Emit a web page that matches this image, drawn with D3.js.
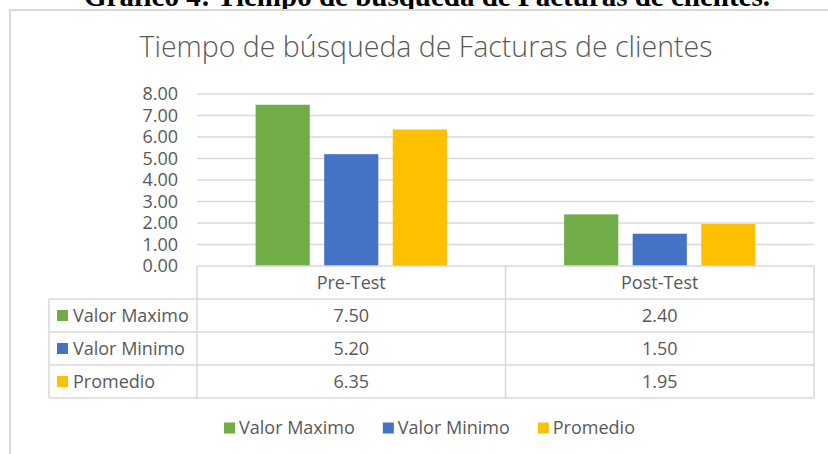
<!DOCTYPE html>
<html>
<head>
<meta charset="utf-8">
<script src="https://cdn.jsdelivr.net/npm/d3@7"></script>
<style>
  html, body { margin: 0; padding: 0; background: #fff; }
  svg { display: block; }
  text { font-family: "Open Sans", "Noto Sans", sans-serif; fill: #595959; }
</style>
</head>
<body>
<svg id="chart" width="828" height="454"></svg>
<script>
// datos
const categories = ["Pre-Test", "Post-Test"];
const seriesNames = ["Valor Maximo", "Valor Minimo", "Promedio"];
const valorMaximo = [7.50, 2.40];
const valorMinimo = [5.20, 1.50];
const promedio = [6.35, 1.95];
const yTicks = [0, 1, 2, 3, 4, 5, 6, 7, 8];
const seriesColors = ["#70ad47", "#4472c4", "#ffc000"];

const series = [valorMaximo, valorMinimo, promedio];
const plot = { left: 197, right: 814, top: 94, bottom: 266 };
const rowH = 33, tableLeft = 49;
const grid = "#d9d9d9";
const fs = 18;

const svg = d3.select("#chart");

// titulo del documento (cortado arriba, como en la captura)
svg.append("text")
  .attr("x", 427).attr("y", 6)
  .attr("text-anchor", "middle")
  .style("font-family", "'Liberation Serif', 'DejaVu Serif', serif")
  .style("font-weight", "bold").style("font-size", "29px").style("fill", "#000")
  .text("Gráfico 4: Tiempo de búsqueda de Facturas de clientes.");

// marco del grafico
svg.append("rect")
  .attr("x", 10).attr("y", 10).attr("width", 840).attr("height", 470)
  .attr("fill", "#fff").attr("stroke", grid).attr("stroke-width", 2);

svg.append("text")
  .attr("x", 426).attr("y", 57)
  .attr("text-anchor", "middle")
  .style("font-size", "28.5px").style("font-weight", 300)
  .text("Tiempo de búsqueda de Facturas de clientes");

const y = d3.scaleLinear().domain([0, 8]).range([plot.bottom, plot.top]);
const x0 = d3.scaleBand().domain(categories).range([plot.left, plot.right]);
const x1 = d3.scaleBand().domain(seriesNames).range([0, x0.bandwidth()])
  .paddingInner(0.21).paddingOuter(0.855);

// lineas de cuadricula
svg.append("g").selectAll("line").data(yTicks.slice(1)).join("line")
  .attr("x1", plot.left).attr("x2", plot.right)
  .attr("y1", d => y(d)).attr("y2", d => y(d))
  .attr("stroke", grid).attr("stroke-width", 1.5);

// eje y
const gy = svg.append("g").attr("transform", `translate(${plot.left - 19},0)`)
  .call(d3.axisLeft(y).tickValues(yTicks).tickFormat(d3.format(".2f")).tickSize(0).tickPadding(0));
gy.select(".domain").remove();
gy.selectAll("text").style("font-size", fs + "px").style("font-family", null).attr("fill", null);

// barras
const groups = svg.append("g").selectAll("g").data(categories).join("g")
  .attr("transform", d => `translate(${x0(d)},0)`);
groups.selectAll("rect")
  .data((c, ci) => seriesNames.map((s, si) => ({ s, si, v: series[si][ci] })))
  .join("rect")
  .attr("x", d => x1(d.s)).attr("width", x1.bandwidth())
  .attr("y", d => y(d.v)).attr("height", d => y(0) - y(d.v))
  .attr("fill", d => seriesColors[d.si]);

// tabla de datos
const tbl = svg.append("g").attr("stroke", grid).attr("stroke-width", 1.5).attr("fill", "none");
const tableBottom = plot.bottom + rowH * 4;
tbl.append("line").attr("x1", plot.left).attr("x2", plot.right).attr("y1", plot.bottom).attr("y2", plot.bottom);
for (let r = 1; r <= 4; r++) {
  const yy = plot.bottom + rowH * r;
  tbl.append("line").attr("x1", tableLeft).attr("x2", plot.right).attr("y1", yy).attr("y2", yy);
}
tbl.append("line").attr("x1", tableLeft).attr("x2", tableLeft).attr("y1", plot.bottom + rowH).attr("y2", tableBottom);
[plot.left, ...categories.map(c => x0(c) + x0.bandwidth())].forEach(xx => {
  tbl.append("line").attr("x1", xx).attr("x2", xx).attr("y1", plot.bottom).attr("y2", tableBottom);
});

svg.append("g").selectAll("text").data(categories).join("text")
  .attr("x", d => x0(d) + x0.bandwidth() / 2).attr("y", plot.bottom + rowH / 2)
  .attr("dy", "0.35em").attr("text-anchor", "middle").style("font-size", fs + "px")
  .text(d => d);

seriesNames.forEach((s, si) => {
  const cy = plot.bottom + rowH * (si + 1) + rowH / 2;
  svg.append("rect").attr("x", 57).attr("y", cy - 5.5).attr("width", 11).attr("height", 11)
    .attr("fill", seriesColors[si]);
  svg.append("text").attr("x", 73).attr("y", cy).attr("dy", "0.35em")
    .style("font-size", fs + "px").text(s);
  svg.append("g").selectAll("text").data(categories).join("text")
    .attr("x", d => x0(d) + x0.bandwidth() / 2).attr("y", cy).attr("dy", "0.35em")
    .attr("text-anchor", "middle").style("font-size", fs + "px")
    .text((d, ci) => d3.format(".2f")(series[si][ci]));
});

// leyenda inferior
const legend = svg.append("g");
let lx = 0;
seriesNames.forEach((s, si) => {
  const item = legend.append("g").attr("transform", `translate(${lx},0)`);
  item.append("rect").attr("x", 0).attr("y", -5.5).attr("width", 11).attr("height", 11).attr("fill", seriesColors[si]);
  const t = item.append("text").attr("x", 15).attr("dy", "0.35em").style("font-size", fs + "px").text(s);
  lx += 15 + t.node().getComputedTextLength() + 28;
});
const legendW = lx - 28;
legend.attr("transform", `translate(${429.5 - legendW / 2},428)`);
</script>
</body>
</html>
